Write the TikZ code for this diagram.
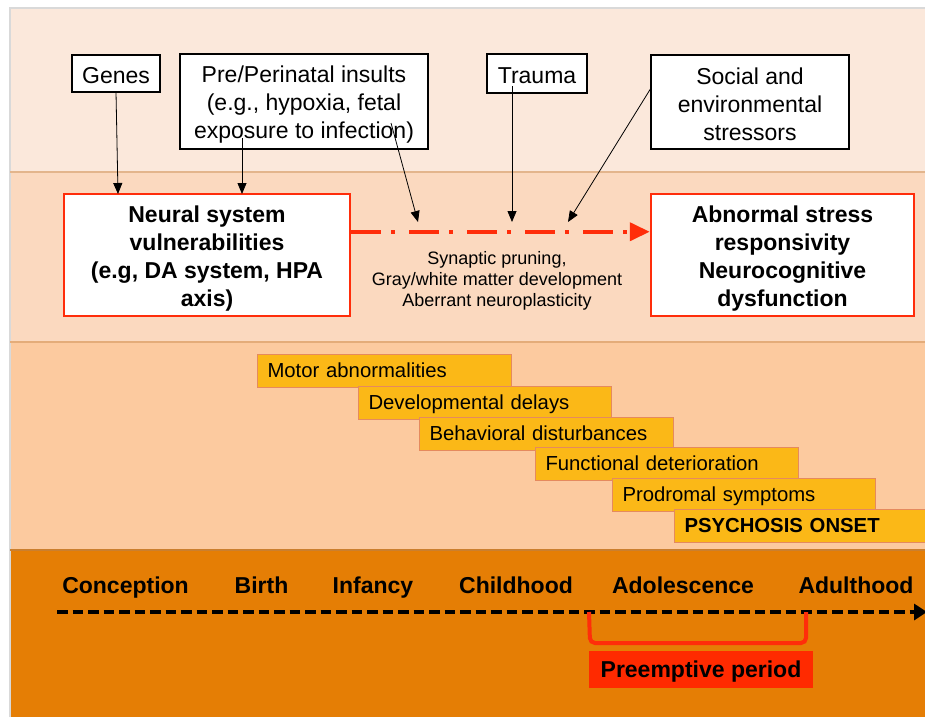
\documentclass[tikz,border=0pt]{standalone}
\usepackage{fontspec}
\setmainfont{Liberation Sans}
\usetikzlibrary{arrows.meta,calc}
\definecolor{bandA}{HTML}{FBE8DB}
\definecolor{bandB}{HTML}{FBD9BF}
\definecolor{bandC}{HTML}{FCCA9F}
\definecolor{bandD}{HTML}{E57E05}
\definecolor{barfill}{HTML}{FBB817}
\definecolor{barline}{HTML}{E58A5E}
\definecolor{redline}{HTML}{FF2D0A}
\definecolor{preempt}{HTML}{FF2A00}
\begin{document}
\begin{tikzpicture}[x=1pt,y=-1pt,
  factor/.style={draw=black,line width=2pt,fill=white,inner sep=0pt},
  ftxt/.style={align=center,inner sep=0pt,font=\fontsize{23}{28}\selectfont},
  outcome/.style={draw=redline,line width=2.5pt,fill=white,inner sep=0pt,
    minimum width=286pt,minimum height=122pt},
  otxt/.style={align=center,inner sep=0pt,font=\fontsize{23}{28}\selectfont\bfseries},
  bar/.style={draw=barline,line width=1pt,fill=barfill,anchor=north west,inner ysep=0pt,
    inner xsep=10pt,minimum height=33pt,align=left,text depth=1pt,
    font=\fontsize{20.3}{22}\selectfont},
  stage/.style={font=\fontsize{23}{26}\selectfont\bfseries,inner sep=0pt,anchor=base},
  thin/.style={draw=black,line width=0.8pt,-{Triangle[length=11pt,width=9pt]}},
  sep/.style={line width=1.5pt}
]
\useasboundingbox (0,0) rectangle (925,717);
\fill[white] (0,0) rectangle (925,717);
% bands
\fill[bandA] (10,8) rectangle (925,172);
\fill[bandB] (10,172) rectangle (925,342);
\fill[bandC] (10,342) rectangle (925,550);
\fill[bandD] (10,550) rectangle (925,717);
\draw[sep,draw=black!15] (10,717) -- (10,8) -- (925,8);
\draw[sep,draw=brown!40!bandB] (10,172) -- (925,172);
\draw[sep,draw=brown!40!bandC] (10,342) -- (925,342);
\draw[sep,draw=brown!70!bandD] (10,550) -- (925,550);

% top factors
\node[factor,minimum width=88pt,minimum height=37pt] (genes) at (116,73.5) {};
\node[ftxt] (genesT) at ($(genes.center)+(0,2)$) {Genes};
\node[factor,minimum width=248pt,minimum height=94pt] (pre) at (304,101.5) {};
\node[ftxt] (preT) at ($(pre.center)+(0,3.5)$)
  {Pre/Perinatal insults\\(e.g., hypoxia, fetal\\exposure to infection)};
\node[factor,minimum width=100pt,minimum height=38pt] (trauma) at (537,73.5) {};
\node[ftxt] (traumaT) at ($(trauma.center)+(0,2.5)$) {Trauma};
\node[factor,minimum width=198pt,minimum height=94pt] (social) at (750,102) {};
\node[ftxt] (socialT) at ($(social.center)+(0,2.5)$)
  {Social and\\environmental\\stressors};

% outcome boxes
\node[outcome] (neural) at (207,255) {};
\node[otxt] (neuralT) at ($(neural.center)+(0,3.5)$)
  {Neural system\\vulnerabilities\\(e.g, DA system, HPA\\axis)};
\node[outcome,minimum width=263pt] (abn) at (782.5,255) {};
\node[otxt] (abnT) at ($(abn.center)+(0,4)$)
  {Abnormal stress\\responsivity\\Neurocognitive\\dysfunction};

% red dash-dot arrow
\coordinate (ra) at ($(neural.north east)+(0,39)$);
\coordinate (rb) at ($(abn.north west)+(0,39)$);
\draw[redline,line width=4pt,dash pattern=on 30pt off 10pt on 4pt off 14pt,
  -{Triangle[length=20pt,width=18pt]}] (ra) -- (rb);

% arrow sources and targets
\coordinate (t1) at (418,222);
\coordinate (t2) at (512,222);
\coordinate (t3) at (568,222);
\coordinate (g0) at (116,92);
\coordinate (g1) at (118,194);
\coordinate (p0) at (242,138);
\coordinate (p1) at (242,194);
\coordinate (p2) at (391,123);
\coordinate (tr0) at (512,86);
\coordinate (s0) at (651,88);
\draw[thin] (g0) -- (g1);
\draw[thin] (p0) -- (p1);
\draw[thin] (p2) -- (t1);
\draw[thin] (tr0) -- (t2);
\draw[thin] (s0) -- (t3);

\node[align=center,font=\fontsize{18}{21}\selectfont] (mech) at (497,281)
  {Synaptic pruning,\\Gray/white matter development\\Aberrant neuroplasticity};

% symptom bars
\node[bar,text width=234pt] (b1) at (257,354) {Motor abnormalities};
\node[bar,text width=233pt] (b2) at (358,385.5) {Developmental delays};
\node[bar,text width=234pt] (b3) at (419,416.5) {Behavioral disturbances};
\node[bar,text width=243pt] (b4) at (535,447) {Functional deterioration};
\node[bar,text width=243pt] (b5) at (612,478) {Prodromal symptoms};
\node[bar,text width=243pt,font=\fontsize{20.3}{22}\selectfont\bfseries] (b6) at (674,509) {PSYCHOSIS ONSET};

% timeline
\node[stage] (s1) at (125.5,593) {Conception};
\node[stage] (s2) at (261.5,593) {Birth};
\node[stage] (s3) at (373,593) {Infancy};
\node[stage] (s4) at (516,593) {Childhood};
\node[stage] (s5) at (683,593) {Adolescence};
\node[stage] (s6) at (856,593) {Adulthood};
\coordinate (tl0) at (57,612);
\coordinate (tl1) at (927,612);
\draw[line width=4pt,dash pattern=on 10.5pt off 5pt,-{Triangle[length=13pt,width=16pt]}] (tl0) -- (tl1);

% bracket and preemptive period
\coordinate (k0) at (589,612);
\coordinate (k1) at (806,612);
\draw[redline,line width=4pt,rounded corners=5pt] (k0) -- ($(k0)+(1,31)$) -- ($(k1)+(0,31)$) -- (k1);
\node[fill=preempt,minimum width=224pt,minimum height=37pt,inner sep=0pt] (pp) at (701,669.5) {};
\node[font=\fontsize{23}{26}\selectfont\bfseries,inner sep=0pt] (ppT) at ($(pp.center)+(0,2.5)$) {Preemptive period};
\end{tikzpicture}
\end{document}
